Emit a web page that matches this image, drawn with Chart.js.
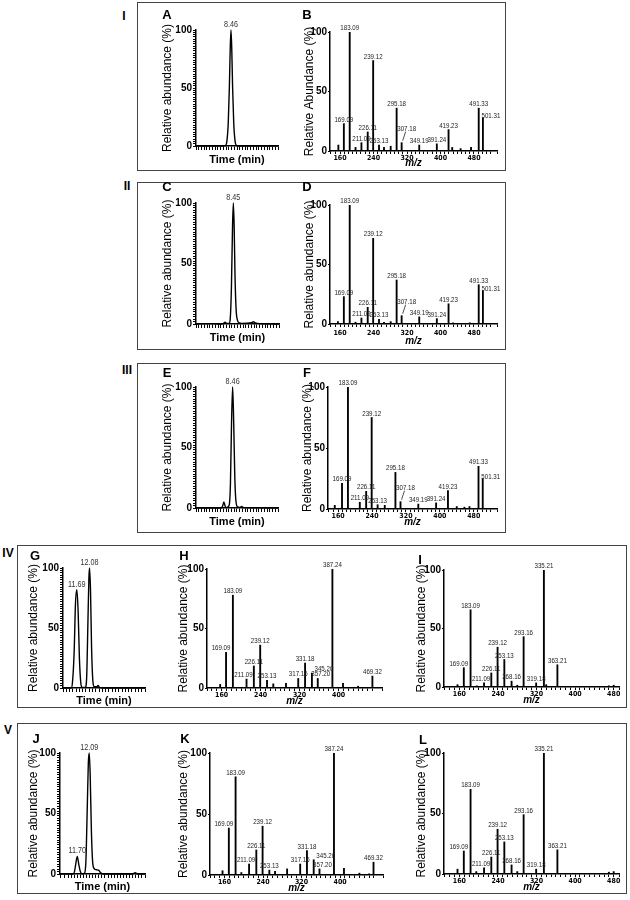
<!DOCTYPE html>
<html>
<head>
<meta charset="utf-8">
<script src="https://cdn.jsdelivr.net/npm/chart.js@4/dist/chart.umd.min.js"></script>
<style>
  body { margin: 0; background: #fff; }
  #fig { position: relative; width: 630px; height: 900px; font-family: 'Liberation Sans', Arial, sans-serif; color: #000; }
  .box { position: absolute; border: 1px solid #444; box-sizing: border-box; }
  .tag { position: absolute; font-weight: bold; transform: translate(-50%, -50%); line-height: 1; }
  canvas { position: absolute; }
</style>
</head>
<body>
<div id="fig">
  <div class="box" style="left:137px;top:2px;width:369px;height:169px"></div>
  <div class="box" style="left:137px;top:182px;width:369px;height:168px"></div>
  <div class="box" style="left:137px;top:363px;width:369px;height:170px"></div>
  <div class="box" style="left:17px;top:545px;width:610px;height:163px"></div>
  <div class="box" style="left:17px;top:723px;width:610px;height:171px"></div>

  <canvas id="cA"></canvas><canvas id="cB"></canvas>
  <canvas id="cC"></canvas><canvas id="cD"></canvas>
  <canvas id="cE"></canvas><canvas id="cF"></canvas>
  <canvas id="cG"></canvas><canvas id="cH"></canvas><canvas id="cI"></canvas>
  <canvas id="cJ"></canvas><canvas id="cK"></canvas><canvas id="cL"></canvas>

  <div class="tag" style="left:124px;top:16px;font-size:12px">I</div>
  <div class="tag" style="left:127px;top:186px;font-size:12px">II</div>
  <div class="tag" style="left:127px;top:370px;font-size:12px">III</div>
  <div class="tag" style="left:8px;top:553px;font-size:12px">IV</div>
  <div class="tag" style="left:8px;top:730px;font-size:12px">V</div>

  <div class="tag" style="left:167px;top:14px;font-size:13px">A</div>
  <div class="tag" style="left:307px;top:14px;font-size:13px">B</div>
  <div class="tag" style="left:167px;top:186px;font-size:13px">C</div>
  <div class="tag" style="left:307px;top:186px;font-size:13px">D</div>
  <div class="tag" style="left:167px;top:372px;font-size:13px">E</div>
  <div class="tag" style="left:307px;top:372px;font-size:13px">F</div>
  <div class="tag" style="left:35px;top:555px;font-size:13px">G</div>
  <div class="tag" style="left:184px;top:555px;font-size:13px">H</div>
  <div class="tag" style="left:420px;top:559px;font-size:13px">I</div>
  <div class="tag" style="left:36px;top:738px;font-size:13px">J</div>
  <div class="tag" style="left:185px;top:738px;font-size:13px">K</div>
  <div class="tag" style="left:423px;top:739px;font-size:13px">L</div>
</div>

<script>
// chromatograms (time in min, relative abundance in %)
const timeA = [7.18, 8.20, 8.26, 8.31, 8.36, 8.40, 8.43, 8.46, 8.49, 8.52, 8.56, 8.61, 8.66, 8.72, 10.18];
const absA  = [0, 0, 0.5, 4, 20, 50, 82, 100, 82, 50, 20, 4, 0.5, 0, 0];
const peaksA = ['8.46'];

const timeC = [7.10, 7.60, 8.00, 8.10, 8.15, 8.20, 8.30, 8.34, 8.38, 8.42, 8.45, 8.48, 8.51, 8.55, 8.60, 8.66, 8.75, 9.10, 9.17, 9.24, 9.40, 10.10];
const absC  = [0, 0.3, 0, 0.5, 1.5, 0.5, 0.5, 5, 30, 80, 100, 80, 40, 12, 3, 1, 0.5, 1, 1.8, 1, 0.3, 0];
const peaksC = ['8.45'];

const timeE = [7.12, 8.05, 8.10, 8.14, 8.18, 8.22, 8.33, 8.38, 8.42, 8.46, 8.50, 8.54, 8.58, 8.64, 8.72, 8.79, 8.86, 10.12];
const absE  = [0, 0, 2, 5, 2, 0.3, 2, 20, 70, 100, 70, 25, 6, 1, 0.5, 1.2, 0.3, 0];
const peaksE = ['8.46'];

const timeG = [11.27, 11.52, 11.56, 11.61, 11.65, 11.69, 11.73, 11.77, 11.81, 11.85, 11.95, 11.99, 12.03, 12.06, 12.08, 12.11, 12.14, 12.18, 12.22, 12.30, 12.34, 12.38, 12.50, 13.77];
const absG  = [0, 0, 5, 30, 70, 82, 65, 25, 5, 0.5, 0.5, 8, 55, 92, 100, 80, 35, 6, 1, 1, 2.2, 0.5, 0, 0];
const peaksG = ['11.69', '12.08'];

const timeJ = [11.14, 11.56, 11.61, 11.65, 11.70, 11.75, 11.80, 11.86, 11.93, 11.98, 12.03, 12.06, 12.09, 12.12, 12.16, 12.20, 12.25, 12.32, 12.40, 12.46, 12.55, 13.50, 13.58, 13.66, 13.90];
const absJ  = [0, 0, 2, 8, 14.6, 8, 2, 0, 0.5, 10, 60, 92, 100, 82, 35, 10, 4.5, 3.5, 3, 1, 0, 0, 1, 0, 0];
const peaksJ = ['11.70', '12.09'];

// MS/MS spectra (m/z, relative abundance in %)
const mzB = [156, 169.09, 183.09, 197, 211.09, 226.11, 239.12, 253.13, 265, 281, 295.18, 307.18, 349.19, 391.24, 419.23, 428, 448, 473, 491.33, 501.31];
const abB = [5, 23, 100, 3, 7, 16, 76, 5, 3, 4, 36, 7, 5, 6, 18, 3, 2, 3, 36, 28];
const labB = ['169.09', '183.09', '211.09', '226.11', '239.12', '253.13', '295.18', '307.18', '349.19', '391.24', '419.23', '491.33', '501.31'];

const mzD = [155, 169.09, 183.09, 197, 211.09, 226.11, 239.12, 253.13, 265, 281, 295.18, 307.18, 349.19, 391.24, 419.23, 430, 470, 491.33, 501.31];
const abD = [2, 23, 100, 1.5, 5, 14, 72, 4, 1.5, 2, 37, 7, 6, 4.5, 17, 1, 1, 33, 28];
const labD = labB;

const mzF = [152, 169.09, 183.09, 211.09, 226.11, 239.12, 253.13, 270, 295.18, 307.18, 349.19, 391.24, 419.23, 440, 458, 470, 491.33, 501.31];
const abF = [3, 21, 100, 5.5, 14.5, 75, 3.5, 3, 30, 6, 4, 5, 15, 2, 1.5, 2, 35, 25];
const labF = labB;

const mzH = [157, 169.09, 183.09, 211.09, 226.11, 239.12, 253.13, 266, 292, 317.16, 331.18, 345.20, 357.20, 387.24, 409, 440, 469.32];
const abH = [3, 30, 78, 7.5, 18.5, 36, 6.5, 3.5, 4, 8, 21, 12.5, 8, 100, 4, 1.5, 10];
const labH = ['169.09', '183.09', '211.09', '226.11', '239.12', '253.13', '317.16', '331.18', '345.20', '357.20', '387.24', '469.32'];

const mzI = [156, 169.09, 183.09, 196, 211.09, 226.11, 239.12, 253.13, 268.16, 280, 293.16, 319.18, 335.21, 340, 363.21, 470, 480];
const abI = [2, 16.5, 66, 1, 3.5, 12, 34, 23.5, 5, 1.5, 43, 3.5, 100, 2, 19, 1, 1.5];
const labI = ['169.09', '183.09', '211.09', '226.11', '239.12', '253.13', '268.16', '293.16', '319.18', '335.21', '363.21'];

const mzK = [156, 169.09, 183.09, 195, 211.09, 226.11, 239.12, 253.13, 265, 290, 317.16, 331.18, 345.20, 357.20, 387.24, 408, 440, 460, 469.32];
const abK = [3.5, 38.5, 80.5, 2, 9, 20.5, 40, 4, 3, 5, 9, 20, 12.5, 5, 100, 5.5, 1.5, 1, 10.5];
const labK = labH;

const mzL = [156, 169.09, 183.09, 195, 211.09, 226.11, 239.12, 253.13, 268.16, 280, 293.16, 319.18, 335.21, 363.21, 470, 480];
const abL = [4, 19, 70, 2, 5, 14, 37, 26.5, 7.5, 2, 49, 4, 100, 20, 1.5, 2];
const labL = labI;

const SANS = "'Liberation Sans', Arial, sans-serif";
const NARROW = "'Liberation Sans Narrow', 'DejaVu Sans Condensed', 'Liberation Sans', Arial, sans-serif";

// plot-area geometry in page pixels
const gA = {l: 196, r: 278, t: 30, b: 146, yw: 36, xh: 21, pt: 16, pr: 6};
const gB = {l: 330, r: 497, t: 32, b: 151, yw: 28, xh: 18, pt: 18, pr: 5, xpad: 0};
const gC = {l: 196, r: 279, t: 203, b: 324, yw: 36, xh: 21, pt: 16, pr: 6};
const gD = {l: 330, r: 497, t: 205, b: 324, yw: 28, xh: 23, pt: 18, pr: 5, xpad: 2};
const gE = {l: 196, r: 278, t: 387, b: 508, yw: 36, xh: 21, pt: 16, pr: 6};
const gF = {l: 328, r: 497, t: 387, b: 509, yw: 28, xh: 19, pt: 18, pr: 5, xpad: 0};
const gG = {l: 63, r: 145, t: 568, b: 688, yw: 37, xh: 20, pt: 16, pr: 6};
const gH = {l: 207, r: 382, t: 569, b: 688, yw: 31, xh: 19, pt: 18, pr: 5, xpad: 0};
const gI = {l: 444, r: 619, t: 570, b: 687, yw: 30, xh: 19, pt: 18, pr: 5, xpad: 0};
const gJ = {l: 60, r: 145, t: 753, b: 874, yw: 34, xh: 20, pt: 16, pr: 6};
const gK = {l: 210, r: 383, t: 753, b: 875, yw: 34, xh: 19, pt: 18, pr: 5, xpad: 0};
const gL = {l: 444, r: 619, t: 753, b: 874, yw: 30, xh: 19, pt: 18, pr: 5, xpad: 0};

// label nudges where the original moved a label off its peak
const shiftTop = {'307.18': {dx: 5, dy: -10, leader: true}, '501.31': {dx: 8, dy: 2}};
const shiftLow = {'169.09': {dx: -5}, '211.09': {dx: -3}, '345.20': {dx: 12}, '357.20': {dx: 3}};

function place(id, g) {
    const c = document.getElementById(id);
    const left = g.l - g.yw, top = g.t - g.pt;
    c.width = g.r + g.pr - left;
    c.height = g.b + g.xh - top;
    c.style.left = left + 'px';
    c.style.top = top + 'px';
    return c;
}

function labelPlugin(labels, style, shifts) {
    return {
        id: 'peakLabels',
        afterDatasetsDraw(chart) {
            const ctx = chart.ctx, x = chart.scales.x, y = chart.scales.y;
            const pts = chart.data.datasets[0].data;
            ctx.save();
            ctx.fillStyle = style.color;
            ctx.strokeStyle = style.color;
            ctx.lineWidth = 0.8;
            ctx.font = style.font;
            ctx.textAlign = 'center';
            ctx.textBaseline = 'alphabetic';
            labels.forEach(t => {
                const p = pts.find(q => q.x.toFixed(2) === t);
                if (!p) return;
                const sh = shifts[t] || {};
                const px = x.getPixelForValue(p.x);
                const py = y.getPixelForValue(p.y) - style.gap;
                const lx = px + (sh.dx || 0), ly = py + (sh.dy || 0);
                if (sh.leader) {
                    ctx.beginPath();
                    ctx.moveTo(px + 1, py);
                    ctx.lineTo(lx - 1, ly + 1);
                    ctx.stroke();
                }
                ctx.save();
                ctx.translate(lx, ly);
                ctx.scale(style.squeeze, 1);
                ctx.fillText(t, 0, 0);
                ctx.restore();
            });
            ctx.restore();
        }
    };
}

function axisY(g, step, tickLen, title) {
    return {
        min: 0, max: 100,
        afterFit: s => { s.width = g.yw; },
        border: {color: '#000', width: 1.5},
        grid: {drawOnChartArea: false, drawTicks: true, color: '#000', lineWidth: 1, tickLength: tickLen},
        ticks: {
            stepSize: step, autoSkip: false, padding: 1, color: '#000',
            font: {family: SANS, size: 10, weight: 'bold'},
            callback: v => (v === 0 || v === 50 || v === 100) ? v : ''
        },
        title: {display: true, text: title, padding: 0, color: '#000', font: {family: SANS, size: 12}}
    };
}

function base(g) {
    return {
        responsive: false, animation: false, events: [],
        layout: {padding: {top: g.pt, right: g.pr, left: 0, bottom: 0}},
        plugins: {legend: {display: false}, tooltip: {enabled: false}}
    };
}

function chromatogram(id, g, times, abund, peaks, range) {
    const opts = base(g);
    opts.scales = {
        x: {
            type: 'linear', min: range[0], max: range[1],
            afterFit: s => { s.height = g.xh; },
            border: {color: '#000', width: 1.5},
            grid: {drawOnChartArea: false, drawTicks: true, color: '#000', lineWidth: 1, tickLength: 4},
            ticks: {stepSize: 0.1, autoSkip: false, maxRotation: 0, padding: 0, callback: () => ''},
            title: {display: true, text: 'Time (min)', padding: 0, color: '#000', font: {family: SANS, size: 11, weight: 'bold'}}
        },
        y: axisY(g, 2, 3, 'Relative abundance (%)')
    };
    new Chart(place(id, g), {
        type: 'line',
        data: {datasets: [{
            data: times.map((t, i) => ({x: t, y: abund[i]})),
            borderColor: '#000', borderWidth: 1.4, pointRadius: 0,
            cubicInterpolationMode: 'monotone', fill: false, clip: 4
        }]},
        options: opts,
        plugins: [labelPlugin(peaks, {font: '9px ' + SANS, color: '#333', gap: 3, squeeze: 0.8}, {})]
    });
}

function spectrum(id, g, mz, ab, labels, range, ytitle, shifts) {
    const opts = base(g);
    opts.scales = {
        x: {
            type: 'linear', min: range[0], max: range[1], offset: false,
            afterFit: s => { s.height = g.xh; },
            border: {color: '#000', width: 1.5},
            grid: {drawOnChartArea: false, offset: false, drawTicks: true, color: '#000', lineWidth: 1, tickLength: 3},
            ticks: {
                stepSize: 10, autoSkip: false, maxRotation: 0, padding: g.xpad, color: '#000',
                font: {family: NARROW, size: 7, weight: 'bold'},
                callback: v => (v % 80 === 0 && v >= 160 && v <= 480) ? String(v) : ''
            },
            title: {display: true, text: 'm/z', padding: 0, color: '#000',
                    font: {family: SANS, size: 10, weight: 'bold', style: 'italic'}}
        },
        y: axisY(g, 50, 2, ytitle)
    };
    new Chart(place(id, g), {
        type: 'bar',
        data: {datasets: [{
            data: mz.map((m, i) => ({x: m, y: ab[i]})),
            backgroundColor: '#000', borderWidth: 0, barThickness: 1.2
        }]},
        options: opts,
        plugins: [labelPlugin(labels, {font: '7.5px ' + SANS, color: '#222', gap: 2, squeeze: 0.82}, shifts)]
    });
}

chromatogram('cA', gA, timeA, absA, peaksA, [7.18, 10.18]);
chromatogram('cC', gC, timeC, absC, peaksC, [7.10, 10.10]);
chromatogram('cE', gE, timeE, absE, peaksE, [7.12, 10.12]);
chromatogram('cG', gG, timeG, absG, peaksG, [11.27, 13.77]);
chromatogram('cJ', gJ, timeJ, absJ, peaksJ, [11.14, 13.90]);

spectrum('cB', gB, mzB, abB, labB, [136, 535], 'Relative Abundance (%)', shiftTop);
spectrum('cD', gD, mzD, abD, labD, [136, 535], 'Relative abundance (%)', shiftTop);
spectrum('cF', gF, mzF, abF, labF, [136, 535], 'Relative abundance (%)', shiftTop);
spectrum('cH', gH, mzH, abH, labH, [130, 489], 'Relative abundance (%)', shiftLow);
spectrum('cI', gI, mzI, abI, labI, [128, 491], 'Relative abundance (%)', shiftLow);
spectrum('cK', gK, mzK, abK, labK, [130, 489], 'Relative abundance (%)', shiftLow);
spectrum('cL', gL, mzL, abL, labL, [128, 491], 'Relative abundance (%)', shiftLow);
</script>
</body>
</html>
